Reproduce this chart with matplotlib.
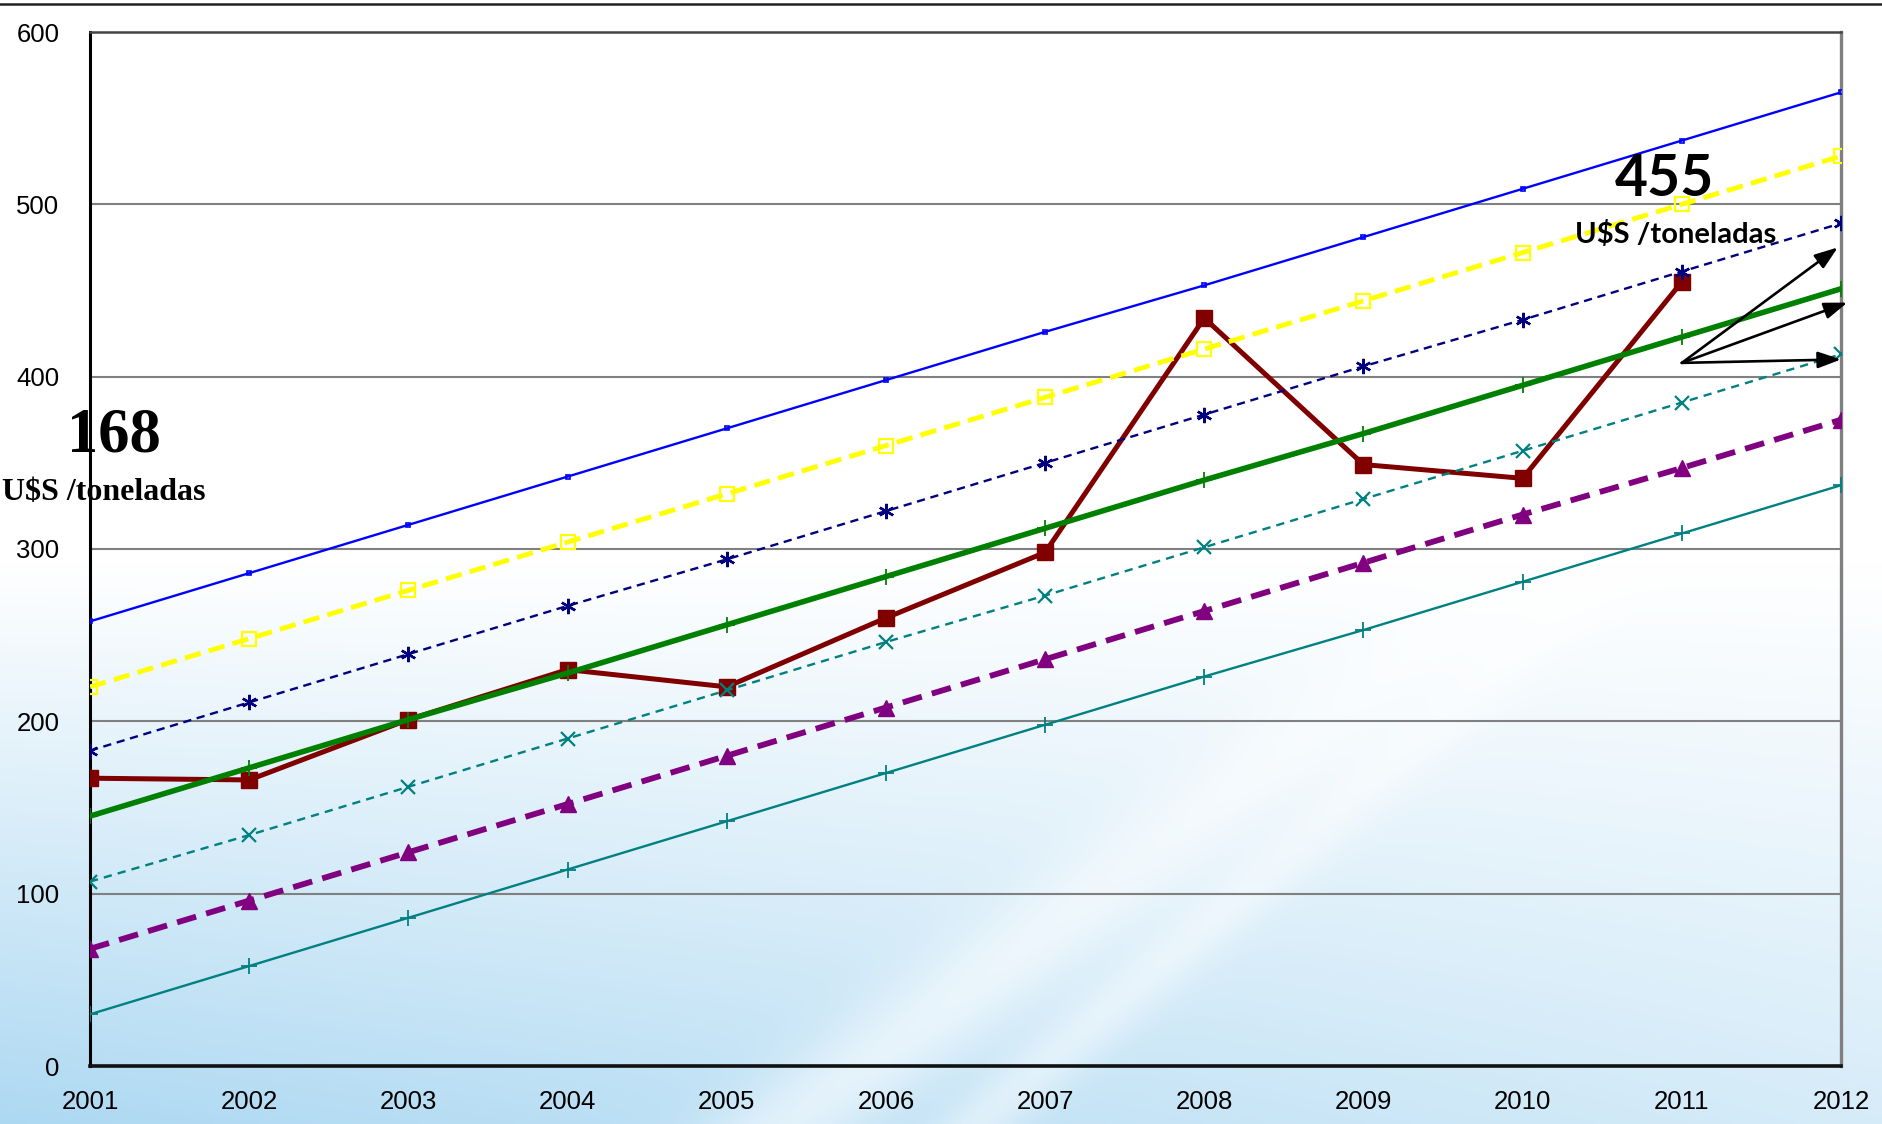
import numpy as np
import matplotlib

matplotlib.use("Agg")

import matplotlib.pyplot as plt

# Años y precios (U$S / toneladas)
years = [2001, 2002, 2003, 2004, 2005, 2006, 2007, 2008, 2009, 2010, 2011, 2012]
year_labels = [str(y) for y in years]

precio_real = [167, 166, 201, 230, 220, 260, 298, 434, 349, 341, 455]

banda_azul = [258, 286, 314, 342, 370, 398, 426, 453, 481, 509, 537, 565]
banda_amarilla = [220, 248, 276, 304, 332, 360, 388, 416, 444, 472, 500, 528]
banda_navy = [183, 211, 239, 267, 294, 322, 350, 378, 406, 433, 461, 489]
tendencia = [145, 173, 201, 228, 256, 284, 312, 340, 367, 395, 423, 451]
banda_teal = [107, 134, 162, 190, 218, 246, 273, 301, 329, 357, 385, 413]
banda_violeta = [68, 96, 124, 152, 180, 208, 236, 264, 292, 320, 347, 375]
banda_inferior = [30, 58, 86, 114, 142, 170, 198, 226, 253, 281, 309, 337]

y_ticks = [0, 100, 200, 300, 400, 500, 600]

# flechas desde 2011 hacia las proyecciones 2012
arrow_start = (2011.0, 408)
arrow_ends = [(2011.98, 475), (2012.04, 443), (2012.0, 410)]

W_PX, H_PX = 1883, 1124
fig = plt.figure(figsize=(W_PX / 100, H_PX / 100), dpi=100)

# fondo: blanco arriba, celeste con trazos claros abajo
bg = fig.add_axes([0, 0, 1, 1], zorder=-5)
h, w = 281, 471
yy, xx = np.mgrid[0:1:h * 1j, 0:1:w * 1j]
amount = np.clip((yy - 0.5) / 0.5, 0, 1) ** 1.0
amount *= 1.0 - 0.5 * xx
d1 = np.abs((yy - 1.0) + 1.25 * (xx - 0.42)) / np.hypot(1, 1.25)
d2 = np.abs((yy - 1.0) + 1.45 * (xx - 0.52)) / np.hypot(1, 1.45)
streak = np.exp(-(d1 / 0.035) ** 2) * 0.55 + np.exp(-(d2 / 0.02) ** 2) * 0.45
amount = np.clip(amount * (1 - streak), 0, 1)
white = np.array([1.0, 1.0, 1.0])
blue = np.array([0.68, 0.85, 0.95])
img = white[None, None, :] * (1 - amount[..., None]) + blue[None, None, :] * amount[..., None]
bg.imshow(img, aspect="auto", extent=[0, 1, 0, 1], interpolation="bilinear")
bg.set_axis_off()

ax = fig.add_axes([90 / W_PX, 1 - 1066 / H_PX, (1841 - 90) / W_PX, (1066 - 32) / H_PX])
ax.set_facecolor("none")

ax.plot(years[:11], precio_real, color="#800000", lw=3.6, marker="s", ms=11,
        zorder=3, solid_joinstyle="miter")
ax.plot(years, banda_azul, color="#0000FF", lw=1.7, marker="s", ms=3.5,
        mfc="none", mew=1.2, zorder=3)
ax.plot(years, banda_amarilla, color="#FFFF00", lw=3.5, dashes=(3.4, 1.7),
        marker="s", ms=10, mfc="none", mew=1.6, zorder=3)
ax.plot(years, banda_navy, color="#000080", lw=1.7, dashes=(3.5, 2.4),
        marker=(6, 2, 0), ms=11, mew=1.7, zorder=3)
ax.plot(years, tendencia, color="#008000", lw=4.0, marker="+", ms=11,
        mew=1.3, zorder=4)
ax.plot(years, banda_teal, color="#008080", lw=1.7, dashes=(3.5, 2.6),
        marker="x", ms=10, mew=1.6, zorder=4)
ax.plot(years, banda_violeta, color="#800080", lw=4.2, dashes=(3.4, 1.8),
        marker="^", ms=11, zorder=4)
ax.plot(years, banda_inferior, color="#008080", lw=1.7, marker="+", ms=11,
        mew=1.3, zorder=4)

for end in arrow_ends:
    ax.annotate("", xy=end, xytext=arrow_start, annotation_clip=False,
                arrowprops=dict(arrowstyle="-|>,head_length=1.4,head_width=0.5",
                                color="black", lw=1.9, shrinkA=0, shrinkB=0),
                zorder=6)

ax.set_xlim(2001, 2012)
ax.set_ylim(0, 600)
ax.set_xticks(years, labels=year_labels)
ax.set_yticks(y_ticks, labels=[str(v) for v in y_ticks])
ax.tick_params(length=0, labelsize=18.5)
ax.tick_params(axis="y", pad=22)
ax.tick_params(axis="x", pad=17)
for lab in ax.get_xticklabels() + ax.get_yticklabels():
    lab.set_fontfamily("Liberation Sans")

ax.yaxis.grid(True, color="#808080", lw=1.5)
ax.set_axisbelow(True)
ax.spines["left"].set(color="black", lw=2.2)
ax.spines["bottom"].set(color="#111111", lw=2.6)
ax.spines["top"].set(color="#444444", lw=1.8)
ax.spines["right"].set(color="#808080", lw=2.4)

# textos anotados
fig.text(114 / W_PX, 1 - 436 / H_PX, "168", family="Liberation Serif",
         weight="bold", fontsize=45, ha="center", va="center")
fig.text(104 / W_PX, 1 - 492 / H_PX, "U$S /toneladas", family="Liberation Serif",
         weight="bold", fontsize=23, ha="center", va="center")
fig.text(1664 / W_PX, 1 - 179 / H_PX, "455", family="Lato",
         weight="bold", fontsize=41, ha="center", va="center")
fig.text(1676 / W_PX, 1 - 234 / H_PX, "U$S /toneladas", family="Lato",
         weight="bold", fontsize=21, ha="center", va="center")

# línea superior de la diapositiva
fig.add_artist(plt.Line2D([0, 1], [1 - 3.5 / H_PX, 1 - 3.5 / H_PX],
                          color="#222222", lw=1.8, transform=fig.transFigure))

fig.savefig("out.png", dpi=100)
